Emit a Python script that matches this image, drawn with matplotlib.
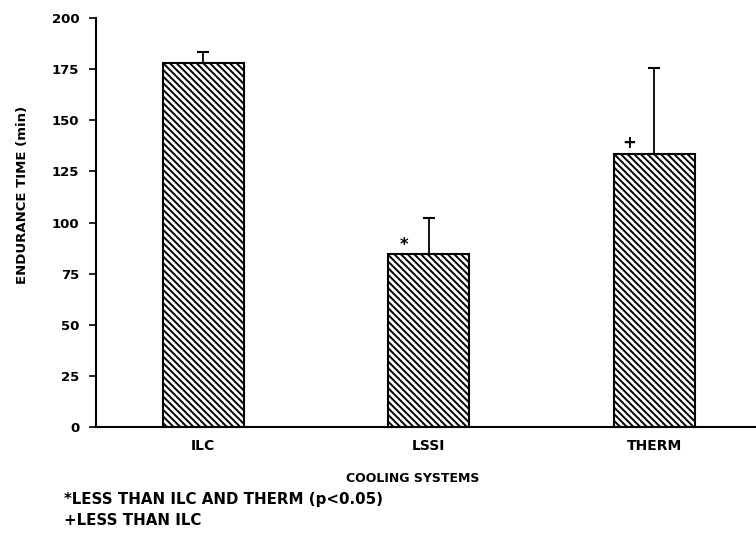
import matplotlib.pyplot as plt
import numpy as np

plt.rcParams['font.family'] = ['DejaVu Sans']
plt.rcParams['font.weight'] = 'bold'
plt.rcParams['axes.labelweight'] = 'bold'
plt.rcParams['hatch.linewidth'] = 1.4

# data
systems = ['ILC', 'LSSI', 'THERM']
endurance = [178, 84.5, 133.5]
err_up = [5.5, 17.5, 42]
marks = ['', '*', '+']
mark_y = [0, 89, 139]

x = np.arange(len(systems))

fig = plt.figure(figsize=(7.56, 5.35), dpi=100)
ax = fig.add_axes([0.127, 0.202, 0.873, 0.764])

ax.bar(x, endurance, width=0.36, color='white', edgecolor='black',
       linewidth=1.5, hatch='\\\\\\\\\\', zorder=2)
ax.errorbar(x, endurance, yerr=[np.zeros(len(x)), err_up], fmt='none',
            ecolor='black', elinewidth=1.3, capsize=4, capthick=1.5, zorder=3)

# significance markers
for xi, m, my in zip(x, marks, mark_y):
    if m:
        ax.text(xi - 0.11, my, m, ha='center', va='center', fontsize=12,
                fontweight='bold')

ax.set_xlim(-0.475, 2.45)
ax.set_ylim(0, 200)
ax.set_yticks(np.arange(0, 201, 25))
ax.set_xticks(x)
ax.set_xticklabels(systems, fontsize=10)
ax.tick_params(axis='y', labelsize=9.5, direction='out', length=5, width=1.2,
               pad=7)
ax.tick_params(axis='x', length=0, pad=9)

for s in ['top', 'right']:
    ax.spines[s].set_visible(False)
ax.spines['left'].set_linewidth(1.5)
ax.spines['bottom'].set_linewidth(1.5)

ax.set_ylabel('ENDURANCE TIME (min)', fontsize=9.5)
ax.yaxis.set_label_coords(-0.102, 0.567)
ax.set_xlabel('COOLING SYSTEMS', fontsize=9)
ax.xaxis.set_label_coords(0.48, -0.11)

fig.text(0.085, 0.058, '*LESS THAN ILC AND THERM (p<0.05)', fontsize=10.8)
fig.text(0.085, 0.018, '+LESS THAN ILC', fontsize=10.8)

plt.savefig('out.png', dpi=100)
